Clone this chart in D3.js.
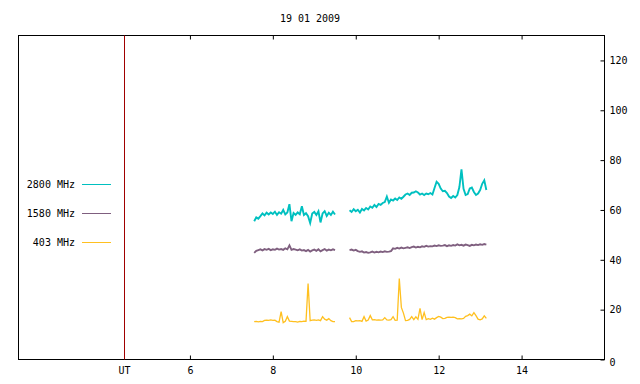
<!DOCTYPE html>
<html>
<head>
<meta charset="utf-8">
<script src="https://cdn.jsdelivr.net/npm/d3@7"></script>
<style>
  body { margin: 0; background: #fff; }
  svg text { font-family: "DejaVu Sans Mono", monospace; font-size: 10px; fill: #000; }
</style>
</head>
<body>
<svg id="chart" width="640" height="384"></svg>
<script>
// title and axis labels
var title = "19 01 2009";
var xTicks = [6, 8, 10, 12, 14];
var yTicks = [0, 20, 40, 60, 80, 100, 120];
var utHour = 4.42;

// sampling of the two recording segments (hours UT)
var seg1Start = 7.55, seg1Count = 40;
var seg2Start = 9.85, seg2Count = 67;
var step = 0.05;

var bands = ["2800 MHz", "1580 MHz", "403 MHz"];
var colors = ["#00c0c0", "#7f5f7f", "#ffc020"];

// 2800 MHz
var f2800a = [55.5, 57.0, 56.5, 57.5, 58.6, 57.8, 58.9, 58.2, 59.0, 58.4,
              59.3, 58.0, 59.1, 58.5, 60.0, 58.2, 59.0, 62.3, 55.5, 58.8,
              58.0, 59.0, 58.3, 61.5, 58.0, 58.7, 57.5, 54.8, 58.6, 59.2,
              58.0, 59.5, 55.0, 58.6, 59.5, 57.6, 58.9, 58.0, 59.3, 58.2];
var f2800b = [59.9, 59.2, 60.3, 59.5, 60.1, 59.0, 60.4, 59.8, 60.8, 60.2,
              61.4, 60.9, 62.0, 61.2, 62.4, 62.0, 62.8, 63.2, 65.4, 62.9,
              64.2, 63.8, 64.6, 64.0, 65.0, 64.5, 65.3, 66.2, 66.6, 66.0,
              66.9, 67.0, 67.5, 67.0, 66.2, 66.6, 66.0, 66.6, 66.3, 66.8,
              66.2, 68.8, 71.3, 70.5, 68.6, 67.5, 67.7, 66.8, 65.4, 64.8,
              65.6, 65.0, 66.0, 69.2, 76.3, 68.5, 66.0, 66.4, 68.6, 69.0,
              67.2, 66.0, 66.6, 68.0, 70.5, 71.9, 68.0];

// 1580 MHz
var f1580a = [42.8, 43.6, 43.9, 44.2, 43.8, 44.3, 44.0, 44.4, 43.9, 44.2,
              44.0, 44.5, 44.1, 44.3, 44.0, 44.6, 44.2, 45.8, 44.0, 44.3,
              44.1, 43.8, 44.2, 43.7, 43.9, 43.5, 44.0, 43.3, 43.8, 44.1,
              43.6, 44.2, 43.4, 43.9, 44.3, 43.7, 44.1, 43.8, 44.2, 43.9];
var f1580b = [43.9, 44.1, 43.7, 44.0, 43.5, 43.2, 43.4, 42.9, 43.1, 42.8,
              43.0, 43.3, 42.9, 43.2, 43.0, 43.3, 43.1, 43.4, 43.2, 43.3,
              43.5, 44.6, 44.4, 44.8, 44.5, 44.9, 44.6, 44.8, 45.0, 44.7,
              45.1, 45.3, 44.9, 45.2, 45.0, 45.4, 45.2, 45.6, 45.3, 45.5,
              45.4, 45.7, 45.5, 45.8, 45.6, 45.7, 45.9, 45.5, 45.8, 45.6,
              45.9, 45.7, 46.2, 45.8, 46.0, 45.7, 46.1, 45.9, 45.6, 46.0,
              45.8, 46.1, 45.9, 46.2, 46.0, 46.3, 46.1];

// 403 MHz
var f403a = [15.2, 15.3, 15.1, 15.3, 15.2, 15.7, 15.8, 15.7, 15.9, 15.7,
             15.8, 15.2, 15.0, 19.2, 14.8, 15.3, 17.2, 15.4, 15.3, 15.2,
             15.2, 15.0, 15.3, 15.2, 15.4, 15.3, 30.5, 15.6, 15.8, 15.9,
             15.7, 15.9, 15.6, 17.2, 16.2, 15.8, 16.4, 15.6, 15.2, 15.2];
var f403b = [16.8, 15.2, 15.2, 15.6, 15.5, 15.6, 15.3, 17.2, 15.4, 15.8,
             17.6, 15.9, 16.0, 15.8, 15.9, 15.8, 15.9, 16.8, 15.9, 15.8,
             16.0, 17.2, 15.7, 15.8, 32.5, 20.9, 18.6, 15.6, 15.7, 16.1,
             17.2, 16.0, 17.1, 16.1, 20.5, 16.0, 18.8, 16.0, 16.4, 16.1,
             16.6, 16.2, 16.8, 17.3, 17.0, 16.4, 16.5, 16.9, 17.0, 16.9,
             17.0, 16.8, 16.3, 16.4, 16.3, 16.5, 17.3, 17.6, 18.2, 17.5,
             18.8, 17.6, 16.2, 15.9, 16.3, 17.5, 16.5];

var seriesA = [f2800a, f1580a, f403a];
var seriesB = [f2800b, f1580b, f403b];

var svg = d3.select('#chart');
var plotL = 18.5, plotR = 604.5, plotT = 35.5, plotB = 359.5;

var x = d3.scaleLinear().domain([1.865, 16]).range([plotL, plotR]);
var y = d3.scaleLinear().domain([0, 130]).range([plotB, plotT]);

var t1 = d3.range(seg1Count).map(function(i) { return seg1Start + i * step; });
var t2 = d3.range(seg2Count).map(function(i) { return seg2Start + i * step; });

svg.append('text')
    .attr('x', 310).attr('y', 22)
    .attr('text-anchor', 'middle')
    .text(title);

// axes: ticks point inward
var bottomAxis = svg.append('g')
    .attr('transform', 'translate(0,' + plotB + ')')
    .call(d3.axisBottom(x).tickValues(xTicks).tickSizeInner(-4).tickSizeOuter(0).tickPadding(7));
var topAxis = svg.append('g')
    .attr('transform', 'translate(0,' + plotT + ')')
    .call(d3.axisTop(x).tickValues(xTicks).tickSizeInner(-4).tickSizeOuter(0).tickFormat(''));
var rightAxis = svg.append('g')
    .attr('transform', 'translate(' + plotR + ',0)')
    .call(d3.axisRight(y).tickValues(yTicks).tickSizeInner(-4).tickSizeOuter(0).tickPadding(5));

[bottomAxis, topAxis, rightAxis].forEach(function(g) {
    g.select('.domain').remove();
    g.selectAll('line').attr('stroke', '#000');
    g.attr('font-family', null).attr('font-size', null);
});
bottomAxis.selectAll('text').attr('dy', '0.71em');
rightAxis.selectAll('.tick').filter(function(d) { return d === 0; })
    .select('text').attr('dy', '0.55em');

// frame
svg.append('rect')
    .attr('x', plotL).attr('y', plotT)
    .attr('width', plotR - plotL).attr('height', plotB - plotT)
    .attr('fill', 'none').attr('stroke', '#000');

// UT marker
var ux = Math.round(x(utHour)) + 0.5;
svg.append('line')
    .attr('x1', ux).attr('x2', ux)
    .attr('y1', plotT).attr('y2', plotB)
    .attr('stroke', '#a00000');
svg.append('text')
    .attr('x', ux).attr('y', 374)
    .attr('text-anchor', 'middle')
    .text('UT');

var line = d3.line()
    .x(function(d) { return x(d[0]); })
    .y(function(d) { return y(d[1]); });

var widths = [1.9, 1.9, 1.3];
bands.forEach(function(name, i) {
    [[t1, seriesA[i]], [t2, seriesB[i]]].forEach(function(seg) {
        svg.append('path')
            .datum(d3.zip(seg[0], seg[1]))
            .attr('fill', 'none')
            .attr('stroke', colors[i])
            .attr('stroke-width', widths[i])
            .attr('d', line);
    });

    // legend
    var ly = 184.5 + i * 29;
    svg.append('text')
        .attr('x', 75).attr('y', ly + 3.5)
        .attr('text-anchor', 'end')
        .text(name);
    svg.append('line')
        .attr('x1', 82).attr('x2', 111)
        .attr('y1', ly).attr('y2', ly)
        .attr('stroke', colors[i]);
});
</script>
</body>
</html>
